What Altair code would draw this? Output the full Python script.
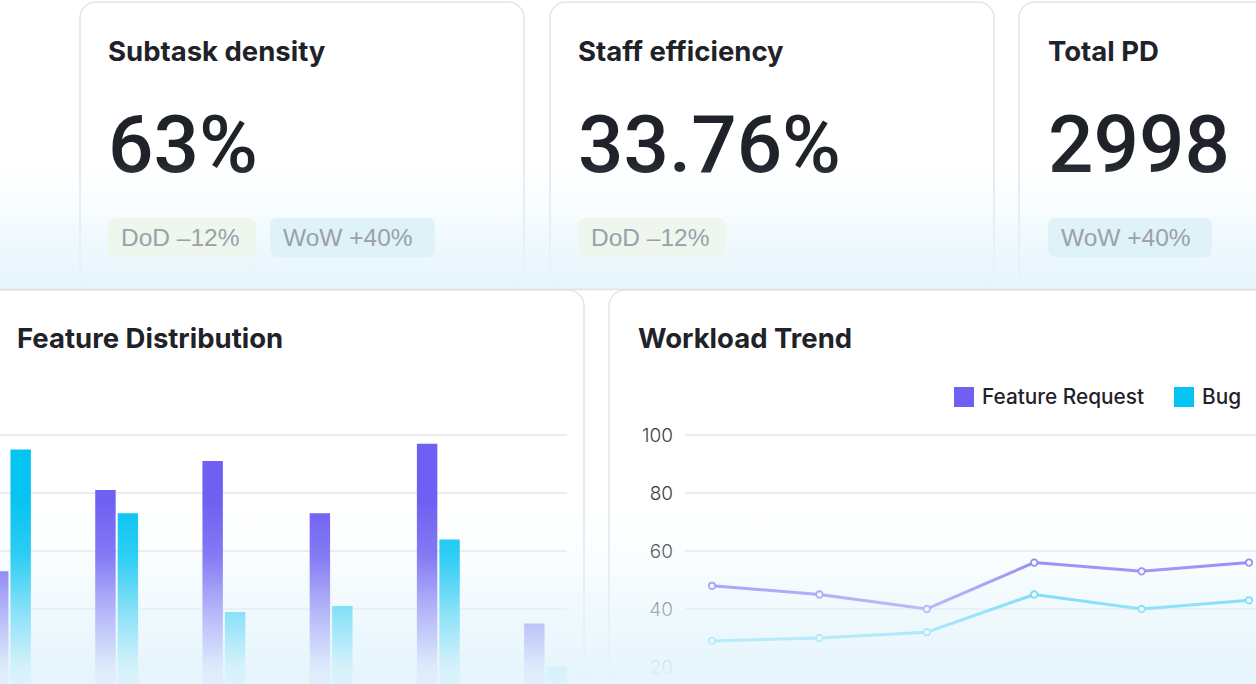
import altair as alt
import pandas as pd

# ---------------- data ----------------
card_titles = ["Subtask density", "Staff efficiency", "Total PD"]
card_values = ["63%", "33.76%", "2998"]
badge_labels = ["DoD –12%", "WoW +40%", "DoD –12%", "WoW +40%"]
badge_kinds = ["DoD", "WoW", "DoD", "WoW"]

panel_titles = ["Feature Distribution", "Workload Trend"]
series = ["Feature Request", "Bug"]

groups = ["G1", "G2", "G3", "G4", "G5", "G6"]
feature_request_dist = [53, 81, 91, 73, 97, 35]
bug_dist = [95, 73, 39, 41, 64, 20]

periods = ["P1", "P2", "P3", "P4", "P5", "P6"]
feature_request_trend = [48, 45, 40, 56, 53, 56]
bug_trend = [29, 30, 32, 45, 40, 43]

y_ticks = [20, 40, 60, 80, 100]

# ---------------- styles / layout ----------------
W, H = 1256, 684
PURPLE = "#6f5ff2"
CYAN = "#06c4f2"
INK = "#1f2329"
BORDER = "#e2e5e9"
GRID = "#e4e6ea"
BADGE_BG = {"DoD": "#eef6ee", "WoW": "#dff2f7"}
BADGE_BOX = [(108, 256), (270, 435), (578, 726), (1048, 1212)]

one = alt.Data(values=[{"k": 1}])


def box(x1, x2, y1, y2, **kw):
    return alt.Chart(one).mark_rect(**kw).encode(
        x=alt.value(x1), x2=alt.value(x2), y=alt.value(y1), y2=alt.value(y2)
    )


color_scale = alt.Scale(domain=series, range=[PURPLE, CYAN])
y_scale = alt.Scale(domain=[0, 100], range=[725, 435])

layers = []

# cards
card_style = dict(cornerRadius=16, fill="white", stroke=BORDER, strokeWidth=1.5)
layers.append(box(-30, 584, 290, 760, **card_style))
layers.append(box(609, 1300, 290, 760, **card_style))
layers.append(box(80, 524, 2, 287, **card_style))
layers.append(box(550, 994, 2, 287, **card_style))
layers.append(box(1019, 1300, 2, 287, **card_style))

# card titles and values
cards_df = pd.DataFrame({"card": card_titles, "value": card_values})
card_x = alt.X("card:N", scale=alt.Scale(type="point", domain=card_titles,
                                         range=[108, 1048], padding=0), axis=None)
layers.append(alt.Chart(cards_df).mark_text(
    align="left", baseline="alphabetic", font="Inter", fontSize=27.5,
    fontWeight="bold", color=INK).encode(x=card_x, y=alt.value(61), text="card:N"))
layers.append(alt.Chart(cards_df).mark_text(
    align="left", baseline="alphabetic", font="Roboto",
    fontSize=80, fontWeight=500, color=INK).encode(x=card_x, y=alt.value(172), text="value:N"))

# bar chart grid
ticks_df = pd.DataFrame({"v": y_ticks})
layers.append(alt.Chart(ticks_df).mark_rule(color=GRID, strokeWidth=1.5).encode(
    y=alt.Y("v:Q", scale=y_scale, axis=None), x=alt.value(0), x2=alt.value(567)))
# line chart grid + labels
layers.append(alt.Chart(ticks_df).mark_rule(color=GRID, strokeWidth=1.5).encode(
    y=alt.Y("v:Q", scale=y_scale, axis=None), x=alt.value(685), x2=alt.value(W)))
layers.append(alt.Chart(ticks_df).mark_text(
    align="right", baseline="middle", font="Inter", fontSize=19, fontWeight=300,
    color="#3a3e45", dy=1).encode(
    y=alt.Y("v:Q", scale=y_scale, axis=None), x=alt.value(673), text="v:Q"))

# bars
bars_df = pd.DataFrame({
    "group": groups * 2,
    "series": [series[0]] * len(groups) + [series[1]] * len(groups),
    "value": feature_request_dist + bug_dist,
})
layers.append(alt.Chart(bars_df).mark_bar(opacity=1).encode(
    x=alt.X("group:N", scale=alt.Scale(domain=groups, range=[-12, 567],
                                       paddingInner=0.6, paddingOuter=0), axis=None),
    xOffset=alt.XOffset("series:N", scale=alt.Scale(domain=series, paddingInner=0.09,
                                                    paddingOuter=0)),
    y=alt.Y("value:Q", scale=y_scale, axis=None),
    color=alt.Color("series:N", scale=color_scale, legend=None),
))

# lines
trend_df = pd.DataFrame({
    "period": periods * 2,
    "series": [series[0]] * len(periods) + [series[1]] * len(periods),
    "value": feature_request_trend + bug_trend,
})
tx = alt.X("period:N", scale=alt.Scale(type="point", domain=periods,
                                       range=[712, 1249], padding=0), axis=None)
layers.append(alt.Chart(trend_df).mark_line(strokeWidth=3, strokeOpacity=0.88).encode(
    x=tx, y=alt.Y("value:Q", scale=y_scale, axis=None),
    color=alt.Color("series:N", scale=color_scale, legend=None), detail="series:N"))
layers.append(alt.Chart(trend_df).mark_point(
    shape="circle", filled=False, fill="white", fillOpacity=1, size=42,
    strokeWidth=1.8, opacity=1, strokeOpacity=0.9).encode(
    x=tx, y=alt.Y("value:Q", scale=y_scale, axis=None),
    color=alt.Color("series:N", scale=color_scale, legend=None)))

# panel titles
panel_df = pd.DataFrame({"t": panel_titles})
layers.append(alt.Chart(panel_df).mark_text(
    align="left", baseline="alphabetic", font="Inter", fontSize=27.5,
    fontWeight="bold", color=INK).encode(
    x=alt.X("t:N", scale=alt.Scale(type="point", domain=panel_titles,
                                   range=[17, 638], padding=0), axis=None),
    y=alt.value(348), text="t:N"))

# legend
leg_df = pd.DataFrame({"series": series})
lx = alt.X("series:N", scale=alt.Scale(type="point", domain=series,
                                       range=[964, 1184], padding=0), axis=None)
layers.append(alt.Chart(leg_df).mark_square(size=400, opacity=1).encode(
    x=lx, y=alt.value(397),
    color=alt.Color("series:N", scale=color_scale, legend=None)))
layers.append(alt.Chart(leg_df).mark_text(
    align="left", baseline="alphabetic", font="Inter", fontSize=20.8,
    fontWeight=500, color=INK, dx=18).encode(x=lx, y=alt.value(404), text="series:N"))

# fading overlays
def fade(stops):
    return alt.Gradient(
        gradient="linear", x1=0, x2=0, y1=0, y2=1,
        stops=[alt.GradientStop(offset=o, color=f"rgba(229,245,252,{a})") for o, a in stops])

layers.append(box(0, W, 160, 289, fill=fade([(0, 0), (0.35, 0.22), (0.7, 0.72), (1, 0.97)])))
layers.append(box(0, W, 500, H, fill=fade([(0, 0), (0.3, 0.18), (0.6, 0.58), (0.9, 0.92), (1, 0.96)])))

# separator
layers.append(alt.Chart(one).mark_rule(color="#dfe2e7", strokeWidth=1.5).encode(
    x=alt.value(0), x2=alt.value(W), y=alt.value(289.5)))

# badges
for (x1, x2), kind, label in zip(BADGE_BOX, badge_kinds, badge_labels):
    layers.append(box(x1, x2, 218, 257, cornerRadius=7, fill=BADGE_BG[kind]))
    layers.append(alt.Chart(alt.Data(values=[{"label": label}])).mark_text(
        align="left", baseline="alphabetic", font="Liberation Sans", fontSize=24.5,
        color="#9aa1a9").encode(x=alt.value(x1 + 13), y=alt.value(246), text="label:N"))

chart = alt.layer(*layers).resolve_scale(
    x="independent", y="independent"
).properties(
    width=W, height=H, padding=0, autosize="none", background="white"
).configure_view(stroke=None)

chart.save("out.html", embed_options={"renderer": "svg", "actions": False})
